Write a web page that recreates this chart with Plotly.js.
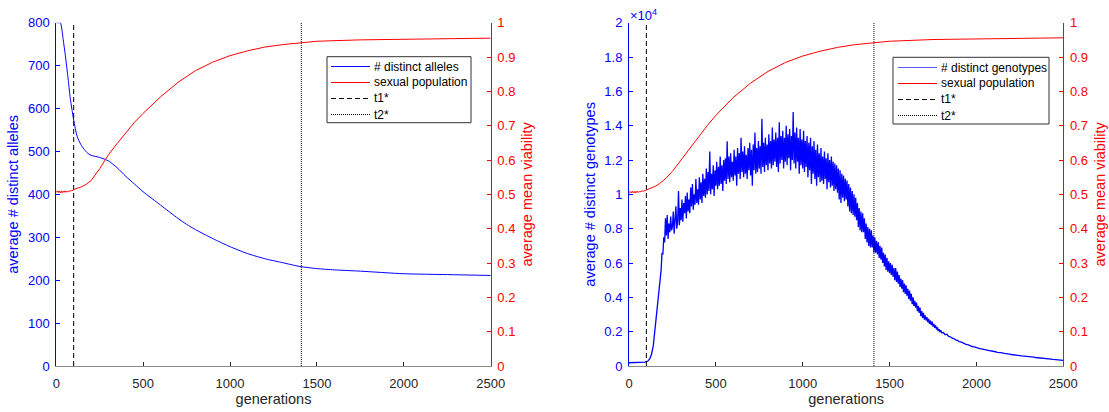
<!DOCTYPE html>
<html>
<head>
<meta charset="utf-8">
<script src="https://cdn.plot.ly/plotly-3.0.1.min.js"></script>
<style>html,body{margin:0;padding:0;background:#fff;}#chart{width:1109px;height:412px;}</style>
</head>
<body>
<div id="chart"></div>
<script>
// ---------- data ----------
const t1 = 100;
const t2 = 1410;

// left panel: average number of distinct alleles
const allelesGen = [0,10,20,25,30,40,50,60,70,80,90,100,120,140,160,180,200,250,300,350,400,450,500,600,700,750,800,900,1000,1100,1200,1300,1400,1500,1600,1750,2000,2250,2500];
const allelesVal = [800,800,800,799,790,760,730,697,662,625,598,573,535,517,505,496,491,486,478,462,442,424,406,375,344,330,318,297,278,262,250,241,232,227,224,221,215,213,211];

// left panel: average mean viability (sexual population)
const viabGenL = [0,5,10,15,20,25,30,35,40,45,50,55,60,65,70,75,80,85,90,95,100,125,150,175,200,250,300,350,400,450,500,600,700,800,900,1000,1100,1200,1300,1410,1500,1750,2000,2250,2500];
const viabValL = [0.511,0.506,0.510,0.505,0.509,0.504,0.510,0.505,0.509,0.506,0.510,0.506,0.509,0.507,0.510,0.508,0.511,0.509,0.512,0.511,0.514,0.518,0.523,0.530,0.540,0.575,0.615,0.648,0.680,0.710,0.736,0.784,0.826,0.860,0.885,0.904,0.918,0.929,0.936,0.942,0.946,0.950,0.952,0.954,0.955];

// right panel: average number of distinct genotypes (x 10^4)
// generations: 0..140 every 10, 145..1800 every 5, 1810..2500 every 10
const genoGen = [];
for (let g = 0; g <= 140; g += 10) genoGen.push(g);
for (let g = 145; g <= 1800; g += 5) genoGen.push(g);
for (let g = 1810; g <= 2500; g += 10) genoGen.push(g);
const genoVal = [
// 0..140
0.019,0.019,0.019,0.0195,0.0195,0.02,0.02,0.0205,0.021,0.022,0.025,0.03,0.042,0.07,0.12,
// 145..1800
0.17,0.23,0.27,0.35,0.37,0.45,0.46,0.55,0.56,0.66,
0.65,0.75,0.72,0.86,0.76,0.88,0.74,0.83,0.78,0.87,
0.79,0.81,0.90,0.77,0.85,0.93,0.80,0.84,1.02,0.82,
0.92,0.85,0.97,0.84,0.95,0.89,0.99,0.86,1.01,0.90,
0.97,0.89,1.04,0.93,1.06,0.91,1.00,0.94,1.09,0.95,
1.03,0.94,1.10,0.97,1.07,0.95,1.12,0.99,1.09,0.98,
1.15,1.00,1.13,1.02,1.25,1.00,1.12,1.03,1.17,0.99,
1.14,1.05,1.19,1.03,1.16,1.05,1.22,1.06,1.17,1.02,
1.20,1.08,1.21,1.06,1.31,1.09,1.22,1.07,1.24,1.10,
1.19,1.08,1.26,1.11,1.22,1.05,1.27,1.12,1.24,1.09,
1.33,1.13,1.25,1.10,1.28,1.12,1.23,1.09,1.27,1.14,
1.30,1.11,1.26,1.05,1.29,1.14,1.36,1.12,1.27,1.13,
1.31,1.15,1.28,1.12,1.44,1.16,1.30,1.13,1.33,1.17,
1.29,1.14,1.35,1.18,1.31,1.15,1.39,1.17,1.32,1.19,
1.36,1.16,1.33,1.13,1.42,1.18,1.34,1.20,1.37,1.15,
1.33,1.19,1.40,1.17,1.35,1.21,1.38,1.14,1.34,1.20,
1.48,1.18,1.36,1.15,1.39,1.19,1.33,1.12,1.38,1.17,
1.32,1.15,1.37,1.13,1.31,1.16,1.34,1.10,1.30,1.14,
1.33,1.06,1.28,1.12,1.31,1.09,1.26,1.05,1.29,1.10,
1.24,1.07,1.27,1.08,1.22,1.06,1.25,1.09,1.21,1.03,
1.24,1.07,1.20,1.04,1.22,1.05,1.19,1.02,1.18,1.03,
1.17,1.01,1.15,0.97,1.14,0.95,1.12,0.98,1.11,0.96,
1.09,0.97,1.08,0.93,1.06,0.90,1.04,0.89,1.02,0.88,
1.00,0.87,0.98,0.85,0.95,0.81,0.92,0.79,0.90,0.78,
0.89,0.78,0.86,0.74,0.83,0.72,0.81,0.70,0.80,0.69,
0.79,0.69,0.76,0.66,0.75,0.66,0.73,0.65,0.72,0.63,
0.70,0.62,0.69,0.60,0.66,0.58,0.65,0.56,0.63,0.55,
0.61,0.54,0.60,0.53,0.59,0.52,0.57,0.50,0.57,0.49,
0.55,0.48,0.53,0.46,0.51,0.45,0.50,0.43,0.48,0.42,
0.47,0.41,0.45,0.39,0.44,0.38,0.42,0.36,0.40,0.35,
0.38,0.34,0.37,0.32,0.35,0.31,0.34,0.29,0.32,0.28,
0.31,0.27,0.295,0.265,0.285,0.255,0.275,0.245,0.265,0.238,
0.258,0.23,0.245,0.222,0.237,0.213,0.226,0.204,0.215,0.197,
0.209,0.193,
// 1810..2500
0.195,0.182,0.185,0.172,0.170,0.162,0.160,0.152,0.150,0.142,
0.140,0.135,0.133,0.126,0.125,0.120,0.118,0.112,0.112,0.106,
0.104,0.101,0.100,0.096,0.095,0.092,0.091,0.087,0.087,0.084,
0.083,0.080,0.080,0.077,0.076,0.073,0.073,0.070,0.0695,0.067,
0.0665,0.064,0.064,0.0615,0.061,0.059,0.0585,0.0565,0.056,0.0545,
0.0535,0.052,0.0515,0.0495,0.049,0.0475,0.047,0.0455,0.045,0.043,
0.0425,0.041,0.0405,0.039,0.0385,0.037,0.0365,0.035,0.0345,0.033
];

// right panel: average mean viability (sexual population)
const viabGenR = [0,5,10,15,20,25,30,35,40,45,50,55,60,65,70,75,80,85,90,95,100,125,150,175,200,250,300,350,400,450,500,600,700,800,900,1000,1100,1200,1300,1410,1500,1750,2000,2250,2500];
const viabValR = [0.509,0.505,0.508,0.504,0.509,0.505,0.508,0.504,0.509,0.505,0.509,0.506,0.508,0.507,0.510,0.508,0.511,0.509,0.511,0.510,0.513,0.517,0.523,0.531,0.541,0.567,0.600,0.634,0.668,0.700,0.730,0.782,0.824,0.858,0.884,0.903,0.917,0.928,0.936,0.942,0.946,0.951,0.953,0.955,0.956];

const xTicks = [0,500,1000,1500,2000,2500];
const allelesTicks = [0,100,200,300,400,500,600,700,800];
const genoTicks = [0,0.2,0.4,0.6,0.8,1,1.2,1.4,1.6,1.8,2];
const leftNames = ['# distinct alleles','sexual population','t1*','t2*'];
const rightNames = ['# distinct genotypes','sexual population','t1*','t2*'];

// ---------- styling ----------
const FONT = 'Liberation Sans, Arial, Helvetica, sans-serif';
const BLUE = '#0000ff';
const RED = '#ff0000';
const AX = '#262626';
const DASH = '5px,3px';
const DOT = '1px,1px';

const W = 1109, H = 412;
const px = v => v / W;
const py = v => (H - v) / H;

const yDom = [py(366), py(22.7)];
const xDomL = [px(56.3), px(490.7)];
const xDomR = [px(629), px(1063.3)];

const traces = [
  {x: allelesGen, y: allelesVal, xaxis:'x', yaxis:'y', mode:'lines', name:leftNames[0], line:{color:BLUE,width:1,shape:'spline',smoothing:0.6}},
  {x: [t1,t1], y: [0,allelesTicks[allelesTicks.length-1]], xaxis:'x', yaxis:'y', mode:'lines', name:leftNames[2], line:{color:'#000',width:1,dash:DASH}},
  {x: [t2,t2], y: [0,allelesTicks[allelesTicks.length-1]], xaxis:'x', yaxis:'y', mode:'lines', name:leftNames[3], line:{color:'#000',width:1,dash:DOT}},
  {x: viabGenL, y: viabValL, xaxis:'x', yaxis:'y2', mode:'lines', name:leftNames[1], line:{color:RED,width:1}},

  {x: genoGen, y: genoVal, xaxis:'x2', yaxis:'y3', mode:'lines', name:rightNames[0], line:{color:BLUE,width:1.3}},
  {x: [t1,t1], y: [0,genoTicks[genoTicks.length-1]], xaxis:'x2', yaxis:'y3', mode:'lines', name:rightNames[2], line:{color:'#000',width:1,dash:DASH}},
  {x: [t2,t2], y: [0,genoTicks[genoTicks.length-1]], xaxis:'x2', yaxis:'y3', mode:'lines', name:rightNames[3], line:{color:'#000',width:1,dash:DOT}},
  {x: viabGenR, y: viabValR, xaxis:'x2', yaxis:'y4', mode:'lines', name:rightNames[1], line:{color:RED,width:1}}
];

function xAxis(dom, anchor) {
  return {domain: dom, anchor: anchor, range:[0,2500], tickvals:xTicks,
    showgrid:false, zeroline:false, showline:true, linecolor:'#8a8a8a', linewidth:1,
    ticks:'inside', ticklen:4, tickcolor:AX, ticklabelstandoff:5,
    tickfont:{family:FONT,size:13,color:AX},
    title:{text:'generations', font:{family:FONT,size:14.5,color:AX}, standoff:3}};
}
function yAxis(dom, anchor, range, color, title, standoff, extra) {
  return Object.assign({domain: dom, anchor: anchor, range: range,
    showgrid:false, zeroline:false, showline:true, linecolor:color, linewidth:1,
    ticks:'inside', ticklen:4, tickcolor:color, ticklabelstandoff:3,
    tickfont:{family:FONT,size:13,color:color},
    title:{text:title, font:{family:FONT,size:14.5,color:color}, standoff:standoff}}, extra || {});
}

// hand-drawn legend boxes (MATLAB-style compact legend)
function legendParts(names, colors, dashes, box, lineX, textX, rowsY) {
  const shapes = [{type:'rect', xref:'paper', yref:'paper', x0:px(box[0]), x1:px(box[1]), y0:py(box[3]), y1:py(box[2]),
    line:{color:'#333',width:1}, fillcolor:'#fff', layer:'above'}];
  const anns = [];
  names.forEach((n, i) => {
    shapes.push({type:'line', xref:'paper', yref:'paper', x0:px(lineX[0]), x1:px(lineX[1]), y0:py(rowsY[i]), y1:py(rowsY[i]),
      line:{color:colors[i], width:1, dash:dashes[i]}, layer:'above'});
    anns.push({xref:'paper', yref:'paper', x:px(textX), y:py(rowsY[i]), xanchor:'left', yanchor:'middle', showarrow:false,
      text:n, font:{family:FONT,size:12,color:'#000'}, borderpad:0});
  });
  return {shapes, anns};
}
const legL = legendParts(leftNames, [BLUE,RED,'#000','#000'], ['solid','solid',DASH,DOT],
  [327,471,56.7,122.7], [331,370], 373, [66.5,82.5,98.5,114.5]);
const legR = legendParts(rightNames, ['#5a5aff',RED,'#000','#000'], ['solid','solid',DASH,DOT],
  [893,1049,57.3,124], [898,937], 940, [67.5,83.5,99.5,115.5]);

const layout = {
  width: W, height: H,
  margin:{l:0,r:0,t:0,b:0},
  paper_bgcolor:'#fff', plot_bgcolor:'rgba(0,0,0,0)',
  font:{family:FONT,size:13,color:AX},
  showlegend:false,
  xaxis: xAxis(xDomL, 'y'),
  yaxis: yAxis(yDom, 'x', [0,800], BLUE, 'average # distinct alleles', 5, {tickvals:allelesTicks}),
  yaxis2: yAxis(yDom, 'x', [0,1], RED, 'average mean viability', 7, {overlaying:'y', side:'right', dtick:0.1, tick0:0}),
  xaxis2: xAxis(xDomR, 'y3'),
  yaxis3: yAxis(yDom, 'x2', [0,2], BLUE, 'average # distinct genotypes', 5, {tickvals:genoTicks}),
  yaxis4: yAxis(yDom, 'x2', [0,1], RED, 'average mean viability', 7, {overlaying:'y3', side:'right', dtick:0.1, tick0:0}),
  shapes: legL.shapes.concat(legR.shapes),
  annotations: legL.anns.concat(legR.anns).concat([
    {xref:'paper', yref:'paper', x:px(629), y:py(15), xanchor:'left', yanchor:'middle', showarrow:false,
     text:'×10<sup>4</sup>', font:{family:FONT,size:13,color:BLUE}, borderpad:0}
  ])
};

Plotly.newPlot('chart', traces, layout, {displayModeBar:false, staticPlot:true});
</script>
</body>
</html>
